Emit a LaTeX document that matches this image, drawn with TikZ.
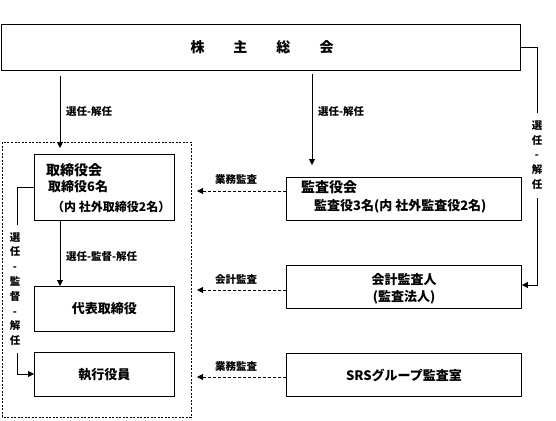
\documentclass[tikz,border=0pt]{standalone}
\usepackage{fontspec}
\setmainfont{Noto Sans CJK JP}
\usetikzlibrary{arrows.meta,calc}
\begin{document}
\begin{tikzpicture}[x=1pt,y=-1pt,
  box/.style={draw,line width=0.9pt,inner sep=0pt},
  ln/.style={line width=0.8pt},
  arr/.style={line width=0.8pt,-{Triangle[length=6pt,width=6pt]}},
  darr/.style={line width=0.8pt,dash pattern=on 3pt off 2pt,-{Triangle[length=6pt,width=6pt]}},
  lbl/.style={font=\fontsize{10.5}{12}\selectfont\bfseries,inner sep=0pt},
  txt/.style={font=\fontsize{13}{15}\selectfont\bfseries,inner sep=0pt},
  ttl/.style={font=\fontsize{14}{16}\selectfont\bfseries,inner sep=0pt},
  vt/.style={font=\fontsize{10.5}{14.8}\selectfont\bfseries,align=center,inner sep=0pt}]
\useasboundingbox (0,0) rectangle (556,420);
% boxes
\node[box,minimum width=519pt,minimum height=46pt,anchor=north west] (sh) at (1,24) {};
\node[ttl] (shtxt) at (262,47) {株\hspace{29pt}主\hspace{29pt}総\hspace{29pt}会};
\draw[line width=0.7pt,dash pattern=on 2pt off 1.5pt] (2,142) rectangle (191,417);
\node[box,minimum width=140pt,minimum height=66pt,anchor=north west] (bd) at (34,154) {};
\node[ttl,anchor=west] (bd1) at (46,170) {取締役会};
\node[txt,anchor=west] (bd2) at (48,187) {取締役6名};
\node[txt,font=\fontsize{12}{14}\selectfont\bfseries,anchor=west] (bd3) at (52,207) {（内 社外取締役2名）};
\node[box,minimum width=140pt,minimum height=45pt,anchor=north west] (rep) at (34,286) {};
\node[txt] (reptxt) at (rep.center) {代表取締役};
\node[box,minimum width=140pt,minimum height=44pt,anchor=north west] (exe) at (34,352) {};
\node[txt] (exetxt) at (exe.center) {執行役員};
\node[box,minimum width=235pt,minimum height=43pt,anchor=north west] (aud) at (286,177) {};
\node[ttl,anchor=west] (aud1) at (301,187) {監査役会};
\node[txt,anchor=west] (aud2) at (314,206) {監査役3名(内 社外監査役2名)};
\node[box,minimum width=235pt,minimum height=43pt,anchor=north west] (acc) at (286,265) {};
\node[txt] (acc1) at (404,280) {会計監査人};
\node[txt] (acc2) at (404,297) {(監査法人)};
\node[box,minimum width=235pt,minimum height=43pt,anchor=north west] (srs) at (286,353) {};
\node[txt] (srstxt) at (srs.center) {SRSグループ監査室};
% labels
\node[lbl,anchor=west] (l1) at (66,112) {選任-解任};
\node[lbl,anchor=west] (l2) at (318,112) {選任-解任};
\node[lbl,anchor=west] (l3) at (66,257) {選任-監督-解任};
\node[lbl] (l4) at (236,180) {業務監査};
\node[lbl] (l5) at (236,280) {会計監査};
\node[lbl] (l6) at (236,367) {業務監査};
\node[vt] (v1) at (537,155) {選\\任\\-\\解\\任};
\node[vt] (v2) at (15,289) {選\\任\\-\\監\\督\\-\\解\\任};
% connectors
\coordinate (a1s) at ($(sh.south west)+(59,5)$);
\coordinate (a1e) at ($(bd.north west)+(26,-6)$);
\draw[arr] (a1s) -- (a1e);
\coordinate (a2s) at ($(sh.south west)+(311,3)$);
\coordinate (a2e) at ($(aud.north west)+(26,-12)$);
\draw[arr] (a2s) -- (a2e);
\coordinate (r1) at (537,47);
\coordinate (r2) at (537,113);
\coordinate (r3) at (537,198);
\coordinate (r4) at (537,285);
\draw[ln] (sh.east |- r1) -- (r1) -- (r2);
\draw[arr] (r3) -- (r4) -- (acc.east |- r4);
\coordinate (b1) at ($(bd.south west)+(26,0)$);
\draw[arr] (b1) -- (rep.north west -| b1);
\coordinate (c1) at (17,187);
\coordinate (c2) at (17,225);
\coordinate (c3) at (17,353);
\coordinate (c4) at (17,374);
\draw[ln] (bd.west |- c1) -- (c1) -- (c2);
\draw[arr] (c3) -- (c4) -- (exe.west |- c4);
\coordinate (d1) at (197,191);
\coordinate (d2) at (197,290);
\coordinate (d3) at (197,377);
\draw[darr] (aud.west |- d1) -- (d1);
\draw[darr] (acc.west |- d2) -- (d2);
\draw[darr] (srs.west |- d3) -- (d3);
\end{tikzpicture}
\end{document}
